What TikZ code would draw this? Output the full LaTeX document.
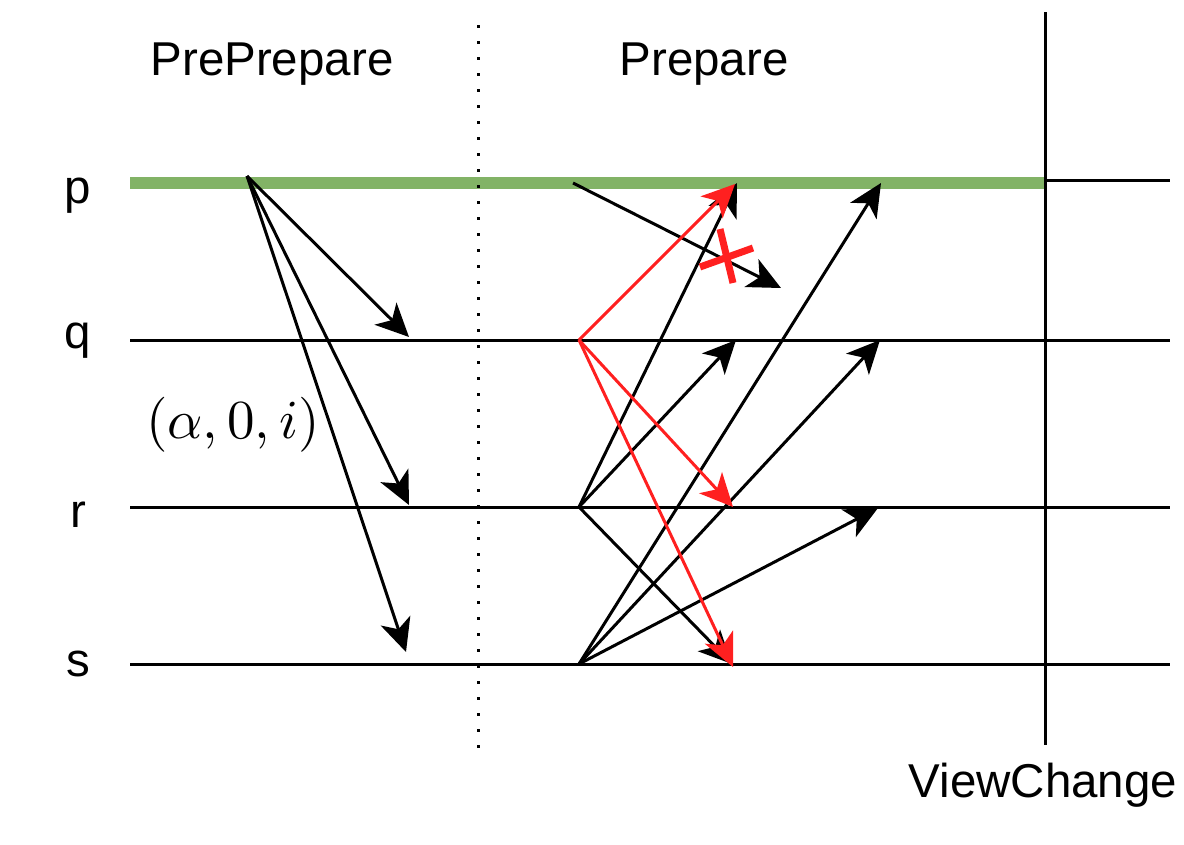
\documentclass[tikz,border=0pt]{standalone}
\usepackage[no-math]{fontspec}
\usepackage{graphicx}
\newfontfamily\lsans{Liberation Sans}
\usetikzlibrary{arrows.meta}
\definecolor{lifegreen}{RGB}{130,179,102}
\definecolor{msgred}{RGB}{255,32,32}
\tikzset{
  life/.style={line width=3pt,black},
  msg/.style={line width=3pt,-{Stealth[length=33pt,width=31pt,inset=9pt]}},
  redmsg/.style={msg,msgred},
  lbl/.style={font=\lsans\fontsize{47.5}{52}\selectfont,inner sep=0pt,anchor=base},
}
\begin{document}
\begin{tikzpicture}[x=1pt,y=-1pt]
\useasboundingbox (0,0) rectangle (1184,844);
% lifeline coordinates
\coordinate (pL) at (130,182.5);
\coordinate (pG) at (1045,182.5);
\coordinate (pM) at (1045,180);
\coordinate (pR) at (1170,180);
\coordinate (qL) at (130,340);
\coordinate (qR) at (1170,340);
\coordinate (rL) at (130,507);
\coordinate (rR) at (1170,507);
\coordinate (sL) at (130,664);
\coordinate (sR) at (1170,664);
\coordinate (d1) at (478,25);
\coordinate (d2) at (478,750);
\coordinate (v1) at (1045,12);
\coordinate (v2) at (1045,745);
% lifelines
\draw[line width=12pt,lifegreen] (pL) -- (pG);
\draw[life] (pM) -- (pR);
\draw[life] (qL) -- (qR);
\draw[life] (rL) -- (rR);
\draw[life] (sL) -- (sR);
\draw[line width=3pt,dash pattern=on 3pt off 13pt] (d1) -- (d2);
\draw[life] (v1) -- (v2);
% labels
\node[lbl] (tpre) at (272,75) {PrePrepare};
\node[lbl] (tprep) at (704,75) {Prepare};
\node[lbl] (tvc) at (1043,797) {ViewChange};
\node[lbl] (lp) at (78,203) {p};
\node[lbl] (lq) at (78,348) {q};
\node[lbl] (lr) at (78,527) {r};
\node[lbl] (ls) at (78,676) {s};
\node[inner sep=0pt,anchor=base] (tup) at (233,438) {\scalebox{5.5}{$(\alpha,0,i)$}};
% PrePrepare
\coordinate (a0) at (247,176);
\coordinate (a1) at (409,337);
\coordinate (a2) at (409,505);
\coordinate (a3) at (406,652);
\draw[msg] (a0) -- (a1);
\draw[msg] (a0) -- (a2);
\draw[msg] (a0) -- (a3);
% Prepare from p (lost)
\coordinate (b0) at (573,183);
\coordinate (b1) at (781,288);
\draw[msg] (b0) -- (b1);
% Prepare from r
\coordinate (r0) at (579,507);
\coordinate (rp) at (737,183);
\coordinate (rq) at (736,340);
\coordinate (rs) at (732,664);
\draw[msg] (r0) -- (rp);
\draw[msg] (r0) -- (rq);
\draw[msg] (r0) -- (rs);
% Prepare from s
\coordinate (s0) at (579,664);
\coordinate (sp) at (881,183);
\coordinate (sq) at (880,340);
\coordinate (sr) at (878,508);
\draw[msg] (s0) -- (sp);
\draw[msg] (s0) -- (sq);
\draw[msg] (s0) -- (sr);
% Prepare from q (red)
\coordinate (q0) at (579,340);
\coordinate (qp) at (735,184);
\coordinate (qr) at (733,507);
\coordinate (qs) at (733,667);
\draw[redmsg] (q0) -- (qp);
\draw[redmsg] (q0) -- (qr);
\draw[redmsg] (q0) -- (qs);
% red cross
\coordinate (x1) at (700,267);
\coordinate (x2) at (753,248);
\coordinate (x3) at (720,229);
\coordinate (x4) at (733,283);
\draw[line width=7pt,msgred] (x1) -- (x2);
\draw[line width=7pt,msgred] (x3) -- (x4);
\end{tikzpicture}
\end{document}
